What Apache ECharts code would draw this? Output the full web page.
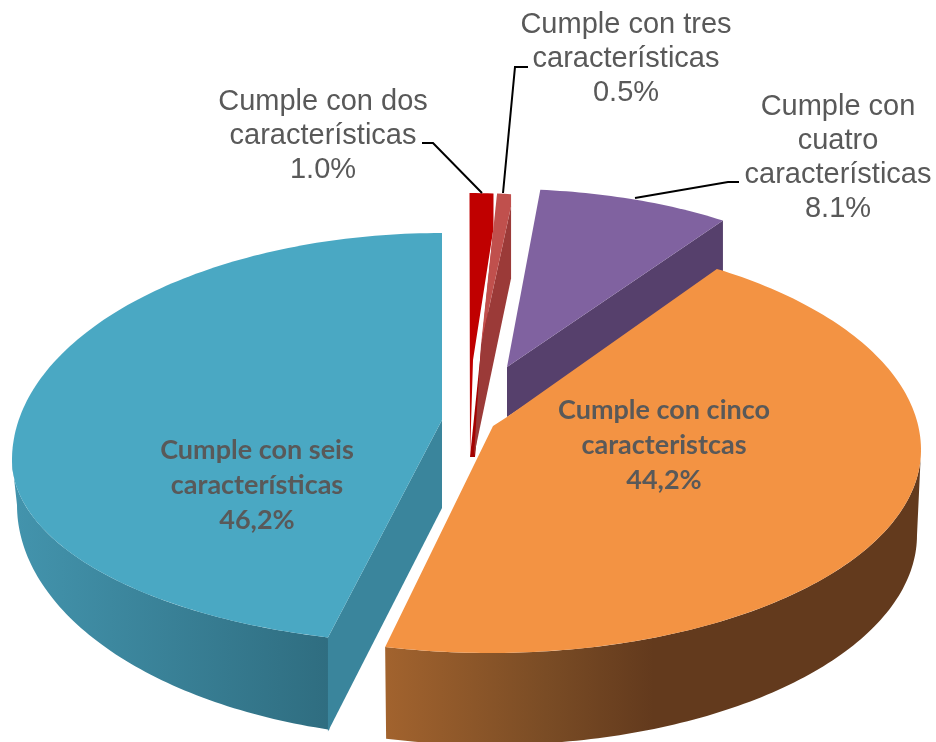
<!DOCTYPE html>
<html>
<head>
<meta charset="utf-8">
<style>html,body{margin:0;padding:0;background:#fff}#c{width:936px;height:742px}</style>
<script src="https://cdn.jsdelivr.net/npm/echarts@6/dist/echarts.min.js"></script>
</head>
<body>
<div id="c"></div>
<script>
// ---- data ----
var categories = [
  'Cumple con seis\ncaracterísticas',
  'Cumple con dos\ncaracterísticas',
  'Cumple con tres\ncaracterísticas',
  'Cumple con\ncuatro\ncaracterísticas',
  'Cumple con cinco\ncaracteristcas'
];
var values = [46.2, 1.0, 0.5, 8.1, 44.2];
var valueLabels = ['46,2%', '1.0%', '0.5%', '8.1%', '44,2%'];

// ---- drawing layout (perspective fit per exploded slice) ----
var layout = [
  { top:'#4AA8C3', cx:442, cy:460, rx:430, ryT:227, ryB:184, nudgeS:1.7, nudgeE:0,
    apex:[[442,420]],
    outer:{ side:'left', cx:442, cy:505, rx:425, ry:233,
            stops:[[0,'#4394ad'],[1,'#2f6d80']] },
    cut:{ edge:'start', w0:0, w1:94, base:[442,508], face:[442,420], color:'#3A859C' },
    label:{ x:257, y:485, bold:true } },
  { top:'#C00000', cx:469.5, cy:457, rx:382, ryT:264, ryB:264, nudgeS:0, nudgeE:0,
    tail:35, apex:[[473,360],[470,457]],
    cut:{ edge:'end', w0:35, w1:60, base:[475,457], face:[470,457], color:'#A50000' },
    label:{ x:323, y:136 }, leader:[[422,143],[433,143],[482,193]] },
  { top:'#C0504D', cx:469, cy:456, rx:447, ryT:263, ryB:263, nudgeS:0, nudgeE:0,
    tail:12, apex:[[481,345]],
    cut:{ edge:'end', w0:12, w1:84, base:[474,456], face:[481,345], color:'#9B3A38' },
    label:{ x:626, y:59 }, leader:[[528,67],[515,67],[503,193]] },
  { top:'#8062A0', cx:504, cy:368, rx:386, ryT:179, ryB:179, nudgeS:0, nudgeE:0,
    apex:[[507,367]],
    cut:{ edge:'end', w0:0, w1:54, base:[507,417], face:[507,367], color:'#56406C' },
    label:{ x:838, y:158 }, leader:[[739,182],[728,182],[635,198]] },
  { top:'#F39343', cx:490, cy:450, rx:431, ryT:213, ryB:203, nudgeS:-2.8, nudgeE:0.4,
    apex:[[493,426],[507,417]],
    outer:{ side:'right', cx:490, cy:535, rx:427, ry:210,
            stops:[[0,'#a2632e'],[0.3,'#7a4c25'],[0.5,'#633a1d'],[1,'#633a1d']] },
    label:{ x:664, y:445, bold:true } }
];

var total = values.reduce(function (a, b) { return a + b; }, 0);
var firstStart = 360 - values[0] / total * 360;

function sliceAngles(i) {
  var before = 0;
  for (var k = 0; k < i; k++) before += values[k];
  var s = (firstStart + before / total * 360) % 360;
  return [s, s + values[i] / total * 360];
}
function rimPt(L, deg) {
  var r = deg * Math.PI / 180, c = Math.cos(r);
  return [L.cx + L.rx * Math.sin(r), L.cy - (c > 0 ? L.ryT : L.ryB) * c];
}
function basePt(O, deg) {
  var r = deg * Math.PI / 180;
  return [O.cx + O.rx * Math.sin(r), O.cy - O.ry * Math.cos(r)];
}
function sweep(fn, obj, a, b) {
  var pts = [], n = Math.max(2, Math.ceil(Math.abs(b - a)));
  for (var j = 0; j <= n; j++) pts.push(fn(obj, a + (b - a) * j / n));
  return pts;
}
function poly(points, fill) {
  return { type: 'polygon', shape: { points: points }, style: { fill: fill }, silent: true };
}

function renderItem(params, api) {
  var i = params.dataIndex, L = layout[i], kids = [];
  var ang = sliceAngles(i);
  var s = ang[0] + L.nudgeS, e = ang[1] + L.nudgeE;
  var rim = sweep(rimPt, L, s, e);
  var rS = rim[0], rE = rim[rim.length - 1];

  if (L.outer) {
    var O = L.outer;
    var a = O.side === 'right' ? 90 : s, b = O.side === 'right' ? e : 270;
    var top = sweep(rimPt, L, a, b), bot = sweep(basePt, O, b, a);
    var stops = O.stops.map(function (st) { return { offset: st[0], color: st[1] }; });
    kids.push(poly(top.concat(bot), new echarts.graphic.LinearGradient(0, 0, 1, 0, stops)));
  }
  if (L.cut) {
    var C = L.cut, p = C.edge === 'start' ? rS : rE;
    kids.push(poly([[p[0], p[1] + C.w0], [p[0], p[1] + C.w1], C.base, C.face], C.color));
  }
  var face = rim.slice();
  if (L.tail) face.push([rE[0], rE[1] + L.tail]);
  kids.push(poly(face.concat(L.apex), L.top));

  var lab = L.label;
  kids.push({
    type: 'text', z2: 10, silent: true,
    style: {
      x: lab.x, y: lab.y,
      text: categories[i] + '\n' + valueLabels[i],
      fill: '#595959',
      align: 'center', verticalAlign: 'middle',
      font: lab.bold ? 'bold 27px Lato, sans-serif' : 'normal 29px Arial, sans-serif',
      lineHeight: lab.bold ? 35 : 34
    }
  });
  if (L.leader) {
    kids.push({
      type: 'polyline', z2: 9, silent: true,
      shape: { points: L.leader },
      style: { stroke: '#000', lineWidth: 2, fill: null }
    });
  }
  return { type: 'group', children: kids };
}

var chart = echarts.init(document.getElementById('c'), null, { renderer: 'canvas' });
chart.setOption({
  backgroundColor: '#fff',
  animation: false,
  series: [{
    type: 'custom',
    coordinateSystem: 'none',
    renderItem: renderItem,
    data: values.map(function (v, i) { return { name: categories[i], value: [v] }; })
  }]
});
</script>
</body>
</html>
